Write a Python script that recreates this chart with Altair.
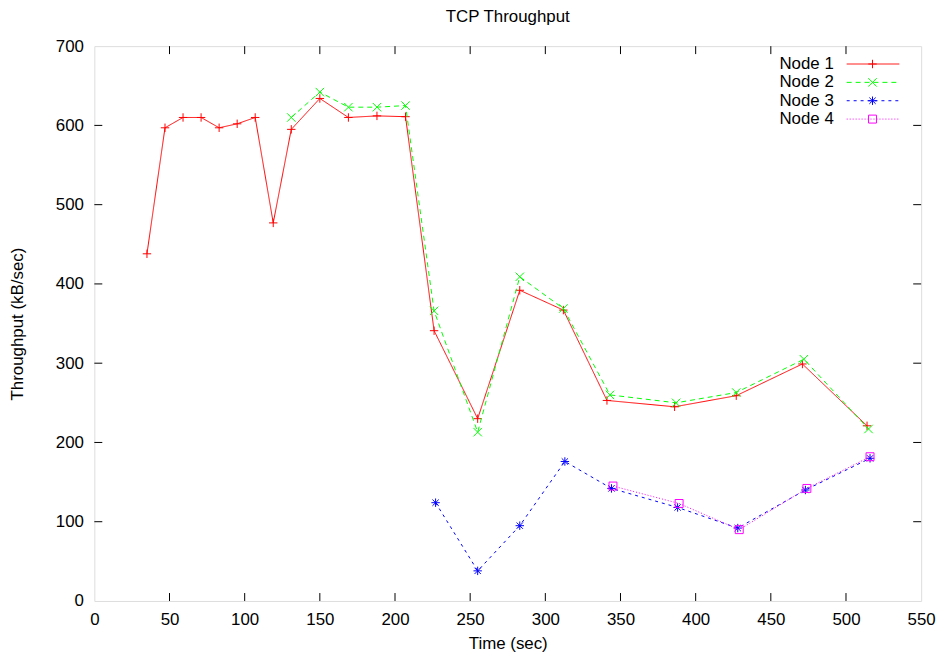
import altair as alt
import pandas as pd

# ---- data ----
node1_t = [35, 47, 59, 71, 83, 95, 107, 119, 131, 150, 169, 188, 207, 226, 255, 283, 312, 341, 386, 427, 471, 514]
node1_v = [438, 597, 610, 610, 597, 602, 610, 477, 595, 634, 610, 612, 611, 341, 230, 392, 367, 253, 245, 259, 299, 221]
node2_t = [131, 150, 169, 188, 207, 226, 255, 283, 312, 343, 387, 427, 472, 515]
node2_v = [610, 642, 623, 623, 625, 366, 213, 409, 369, 260, 250, 263, 305, 217]
node3_t = [227, 255, 283, 313, 344, 388, 428, 473, 516]
node3_v = [124, 38, 95, 176, 142, 118, 92, 140, 180]
node4_t = [345, 389, 429, 474, 516]
node4_v = [145, 123, 90, 142, 182]

series_names = ["Node 1", "Node 2", "Node 3", "Node 4"]
x_ticks = [0, 50, 100, 150, 200, 250, 300, 350, 400, 450, 500, 550]
y_ticks = [0, 100, 200, 300, 400, 500, 600, 700]
chart_title = "TCP Throughput"

FONT = "Liberation Sans"
W, H = 833, 559

PLUS = "M-1,0L1,0M0,-1L0,1"
XMARK = "M-1,-1L1,1M-1,1L1,-1"
STAR = "M-1,0L1,0M0,-1L0,1M-0.75,-0.75L0.75,0.75M-0.75,0.75L0.75,-0.75"

styles = [
    dict(color="#ff0000", dash=[1, 0], shape=PLUS, size=72),
    dict(color="#00ff00", dash=[5, 4], shape=XMARK, size=72),
    dict(color="#0000ff", dash=[3, 4], shape=STAR, size=72),
    dict(color="#ff00ff", dash=[1, 2], shape="square", size=64),
]
data_sets = [(node1_t, node1_v), (node2_t, node2_v), (node3_t, node3_v), (node4_t, node4_v)]

X = alt.X("time:Q", scale=alt.Scale(domain=[0, 550], nice=False, zero=False),
          axis=alt.Axis(values=x_ticks, title="Time (sec)", domain=False, ticks=False, grid=False,
                        labelPadding=11, labelFontSize=17, labelFont=FONT, labelColor="black",
                        titleFontSize=17, titleFont=FONT, titleFontWeight="normal", titleColor="black",
                        titleY=43, titleBaseline="middle", labelFlush=False))
Y = alt.Y("tp:Q", scale=alt.Scale(domain=[0, 700], nice=False),
          axis=alt.Axis(values=y_ticks, title="Throughput (kB/sec)", domain=False, ticks=False, grid=False,
                        labelPadding=11, labelFontSize=17, labelFont=FONT, labelColor="black",
                        titleFontSize=17, titleFont=FONT, titleFontWeight="normal", titleColor="black",
                        titleX=-77, titleY=H / 2, titleBaseline="middle", titleAlign="center",
                        titleAngle=270, labelFlush=False))

layers = []

# inward mirrored ticks
xt = pd.DataFrame({"time": x_ticks[1:-1]})
yt = pd.DataFrame({"tp": y_ticks[1:-1]})
tick_len = 8
layers.append(alt.Chart(xt).mark_rule(color="black", strokeWidth=1).encode(x=X, y=alt.value(H), y2=alt.value(H - tick_len)))
layers.append(alt.Chart(xt).mark_rule(color="black", strokeWidth=1).encode(x=X, y=alt.value(0), y2=alt.value(tick_len)))
layers.append(alt.Chart(yt).mark_rule(color="black", strokeWidth=1).encode(y=Y, x=alt.value(0), x2=alt.value(tick_len)))
layers.append(alt.Chart(yt).mark_rule(color="black", strokeWidth=1).encode(y=Y, x=alt.value(W), x2=alt.value(W - tick_len)))

# series
for name, (ts, vs), st in zip(series_names, data_sets, styles):
    df = pd.DataFrame({"time": ts, "tp": vs, "node": name})
    layers.append(alt.Chart(df).mark_line(color=st["color"], strokeWidth=1, strokeDash=st["dash"]).encode(x=X, y=Y))
    layers.append(alt.Chart(df).mark_point(shape=st["shape"], size=st["size"], filled=False,
                                           color=st["color"], strokeWidth=1, opacity=1).encode(x=X, y=Y))

# legend (gnuplot style: label right-aligned, sample to its right)
leg_rows = [18, 36.5, 55, 73.5]
for name, st, ry in zip(series_names, styles, leg_rows):
    ld = pd.DataFrame({"node": [name]})
    layers.append(alt.Chart(ld).mark_text(align="right", baseline="middle", font=FONT, fontSize=17,
                                          color="black").encode(text="node:N", x=alt.value(745), y=alt.value(ry)))
    layers.append(alt.Chart(ld).mark_rule(color=st["color"], strokeWidth=1, strokeDash=st["dash"]).encode(
        x=alt.value(758), x2=alt.value(811), y=alt.value(ry)))
    layers.append(alt.Chart(ld).mark_point(shape=st["shape"], size=st["size"], filled=False, color=st["color"],
                                           strokeWidth=1, opacity=1).encode(x=alt.value(784), y=alt.value(ry)))

# chart title as a text mark above the plot
td = pd.DataFrame({"t": [chart_title]})
layers.append(alt.Chart(td).mark_text(align="center", baseline="middle", font=FONT, fontSize=17,
                                      color="black").encode(text="t:N", x=alt.value(W / 2), y=alt.value(-29)))

chart = alt.layer(*layers).properties(
    width=W, height=H,
    padding={"left": 87, "top": 36, "right": 20, "bottom": 52},
    autosize=alt.AutoSizeParams(type="none"),
).configure_view(stroke="black", strokeWidth=1.5).configure(background="white")

chart.save("out.html", embed_options={"renderer": "svg", "actions": False})
